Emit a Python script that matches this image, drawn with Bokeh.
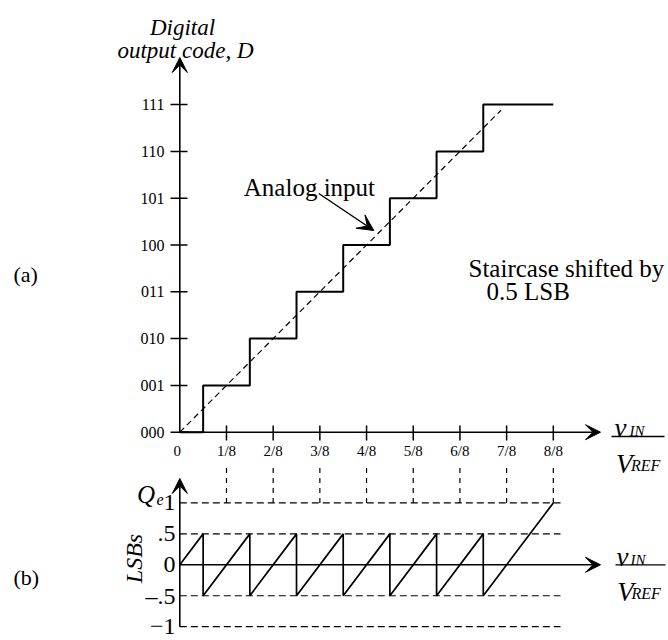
import math
from bokeh.plotting import figure
from bokeh.models import Range1d, Arrow, VeeHead, Label
from bokeh.core.properties import value
from bokeh.embed import file_html
from bokeh.resources import INLINE

# ---------------- data ----------------
codes = [0, 1, 2, 3, 4, 5, 6, 7]
code_labels = ["000", "001", "010", "011", "100", "101", "110", "111"]
x_ticks = [1/8, 2/8, 3/8, 4/8, 5/8, 6/8, 7/8, 8/8]
x_tick_labels = ["1/8", "2/8", "3/8", "4/8", "5/8", "6/8", "7/8", "8/8"]

stair_x = [0, 1/16, 1/16, 3/16, 3/16, 5/16, 5/16, 7/16, 7/16,
           9/16, 9/16, 11/16, 11/16, 13/16, 13/16, 8/8]
stair_d = [0, 0, 1, 1, 2, 2, 3, 3, 4, 4, 5, 5, 6, 6, 7, 7]

analog_x = [0, 0.86]
analog_d = [0, 6.88]

saw_x = [0, 1/16, 1/16, 3/16, 3/16, 5/16, 5/16, 7/16, 7/16,
         9/16, 9/16, 11/16, 11/16, 13/16, 13/16, 8/8]
saw_q = [0, 0.5, -0.5, 0.5, -0.5, 0.5, -0.5, 0.5, -0.5,
         0.5, -0.5, 0.5, -0.5, 0.5, -0.5, 1]

q_levels = [1, 0.5, 0, -0.5, -1]
q_labels = ["1", ".5", "0", "\u2013.5", "\u22121"]
q_dashed = [1, 0.5, -0.5, -1]

# ---------------- geometry (page pixels -> data) ----------------
X0, XS = 179.3, 373.5
YT0, YTS = 431.7, 46.8
YQ0, YQS = 564.3, 61.85
W, H = 668, 640
OFF = 0

def X(px):
    return (px - X0) / XS

def YT(py):
    return (YT0 - py) / YTS

def YQ(py):
    return (YQ0 - py) / YQS

FONT = "Liberation Serif"

p = figure(width=W, height=H,
           x_range=Range1d(X(OFF), X(OFF + W)),
           y_range=Range1d(YT(OFF + H), YT(OFF)),
           output_backend="svg", toolbar_location=None,
           x_axis_location=None, y_axis_location=None,
           min_border=0, outline_line_color=None,
           background_fill_color="white", border_fill_color="white")
p.extra_y_ranges = {"q": Range1d(YQ(OFF + H), YQ(OFF))}
p.xgrid.visible = False
p.ygrid.visible = False


def head(size=15):
    return VeeHead(size=size, fill_color="black", line_color="black", line_width=1)


def txt(x, y, s, size, style="normal", align="left", baseline="alphabetic",
        angle=0, rng="default"):
    p.add_layout(Label(x=x, y=y, text=s, text_font=FONT,
                       text_font_size=f"{size}px", text_font_style=style,
                       text_align=align, text_baseline=baseline, angle=angle,
                       text_color="black", y_range_name=rng))

# ---------------- top panel ----------------
p.line(analog_x, analog_d, line_color="black", line_width=1.2, line_dash="6 4")
p.line(stair_x, stair_d, line_color="black", line_width=2)

# y axis with arrow
p.add_layout(Arrow(end=head(), x_start=0, y_start=codes[0], x_end=0, y_end=YT(57),
                   line_color="black", line_width=1.6))
# x axis with arrow
p.add_layout(Arrow(end=head(), x_start=0, y_start=codes[0], x_end=X(600), y_end=codes[0],
                   line_color="black", line_width=1.6))

# y ticks + labels
n = len(codes)
p.segment(x0=[X(170)] * n, y0=codes, x1=[X(187)] * n, y1=codes,
          line_color="black", line_width=1.5)
p.text(x=[X(164)] * n, y=codes, text=code_labels,
       text_font=value(FONT), text_font_size=value("16px"),
       text_align="right", text_baseline="middle", text_color="black")

# x ticks + labels
m = len(x_ticks)
p.segment(x0=x_ticks, y0=[YT(425)] * m, x1=x_ticks, y1=[YT(440)] * m,
          line_color="black", line_width=1.5)
p.text(x=x_ticks, y=[YT(450)] * m, text=x_tick_labels,
       text_font=value(FONT), text_font_size=value("15px"),
       text_align="center", text_baseline="alphabetic", text_color="black")
p.text(x=[X(176.7)], y=[YT(450)], text=["0"],
       text_font=value(FONT), text_font_size=value("15px"),
       text_align="center", text_baseline="alphabetic", text_color="black")

# top labels
txt(X(182), YT(27), "Digital", 23, "italic", "center")
txt(X(185), YT(50), "output code, D", 23, "italic", "center")
txt(X(243.3), YT(186.7), "Analog input", 25)
p.add_layout(Arrow(end=head(16),
                   x_start=X(318.3), y_start=YT(193), x_end=X(373.3), y_end=YT(230),
                   line_color="black", line_width=1.5))
txt(X(468), YT(268.3), "Staircase shifted by", 25)
txt(X(486), YT(291), "0.5 LSB", 25)
txt(X(13), YT(274), "(a)", 22)

# v_IN / V_REF (top)
txt(X(614), YT(427), "v", 27, "italic")
txt(X(629), YT(430), "IN", 15, "italic")
p.segment(x0=[X(611)], y0=[YT(436)], x1=[X(664)], y1=[YT(436)],
          line_color="black", line_width=1.3)
txt(X(615.5), YT(463.5), "V", 27, "italic")
txt(X(630.5), YT(465), "REF", 16, "italic")

# ---------------- bottom panel ----------------
k = len(q_dashed)
p.segment(x0=[0] * k, y0=q_dashed, x1=[X(560)] * k, y1=q_dashed,
          line_color="black", line_width=1.2, line_dash="7 4", y_range_name="q")
p.segment(x0=x_ticks, y0=[q_dashed[0]] * m, x1=x_ticks, y1=[YQ(463)] * m,
          line_color="black", line_width=1.2, line_dash="5 5", y_range_name="q")

p.line(saw_x, saw_q, line_color="black", line_width=1.7, y_range_name="q")

p.add_layout(Arrow(end=head(), x_start=0, y_start=q_levels[-1], x_end=0, y_end=YQ(478),
                   line_color="black", line_width=1.6, y_range_name="q"))
p.add_layout(Arrow(end=head(), x_start=0, y_start=0, x_end=X(600), y_end=0,
                   line_color="black", line_width=1.6, y_range_name="q"))

p.text(x=[X(175)] * len(q_levels), y=q_levels, text=q_labels,
       text_font=value(FONT), text_font_size=value("24px"),
       text_align="right", text_baseline="middle", text_color="black",
       y_range_name="q")

txt(X(136.5), YQ(494), "Q", 25, "italic", rng="q")
txt(X(156), YQ(499), "e", 16, "italic", rng="q")
txt(X(133), YQ(558), "LSBs", 24, "italic", "center", "middle", angle=math.pi / 2, rng="q")
txt(X(13), YQ(577), "(b)", 22, rng="q")

# v_IN / V_REF (bottom)
txt(X(616), YQ(556), "v", 27, "italic", rng="q")
txt(X(630), YQ(559), "IN", 15, "italic", rng="q")
p.segment(x0=[X(615)], y0=[0], x1=[X(665)], y1=[0],
          line_color="black", line_width=1.3, y_range_name="q")
txt(X(616.7), YQ(591.7), "V", 27, "italic", rng="q")
txt(X(631), YQ(593), "REF", 16, "italic", rng="q")

open("out.html", "w").write(file_html(p, INLINE))
